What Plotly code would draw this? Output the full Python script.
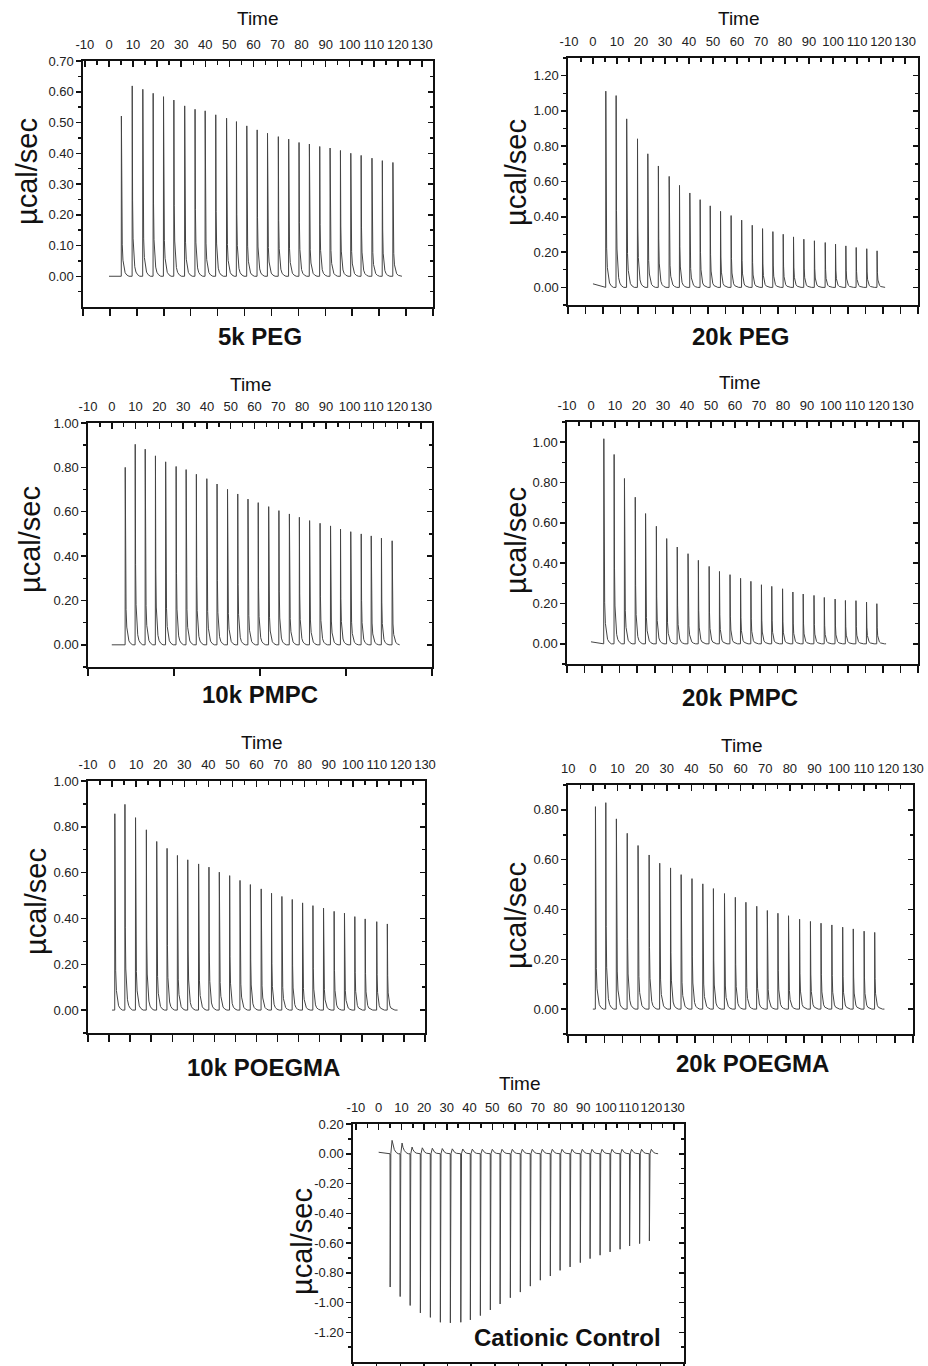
import plotly.graph_objects as go

W, H = 928, 1366          # browser window / figure size
FONT = "Liberation Sans, Arial, sans-serif"

# ---------------- data ----------------
PANEL_NAMES = ["5k PEG", "20k PEG", "10k PMPC", "20k PMPC", "10k POEGMA", "20k POEGMA", "Cationic Control"]

# injection times (min)
T_5K_PEG = [5.1, 9.6, 14.0, 18.3, 22.6, 26.9, 31.4, 35.7, 39.9, 44.3, 48.8, 52.9, 57.2, 61.5,
            65.8, 70.3, 74.6, 78.9, 83.2, 87.5, 91.8, 96.1, 100.4, 104.7, 109.2, 113.5, 117.9]
T_20K_PEG = [5.3, 9.6, 14.0, 18.5, 22.8, 27.2, 31.7, 36.0, 40.3, 44.6, 48.8, 53.1, 57.5, 61.9,
             66.3, 70.6, 74.9, 79.2, 83.5, 87.8, 92.2, 96.7, 101.0, 105.3, 109.6, 114.0, 118.3]
T_10K_PMPC = [5.6, 9.8, 14.0, 18.3, 22.6, 27.0, 31.2, 35.5, 39.9, 44.2, 48.6, 52.9, 57.2, 61.5,
              65.9, 70.2, 74.6, 78.8, 83.1, 87.5, 91.9, 96.1, 100.4, 104.8, 109.0, 113.3, 117.8]
T_20K_PMPC = [5.3, 9.6, 13.9, 18.4, 22.7, 27.2, 31.5, 35.9, 40.4, 44.7, 49.2, 53.5, 57.9, 62.3,
              66.6, 71.0, 75.3, 79.8, 84.1, 88.4, 92.9, 97.2, 101.7, 106.0, 110.4, 114.8, 119.1]
T_10K_POEGMA = [1.1, 5.3, 9.7, 14.2, 18.5, 22.8, 27.1, 31.4, 35.9, 40.2, 44.5, 48.8, 53.1, 57.4,
                61.9, 66.2, 70.5, 74.8, 79.1, 83.4, 87.8, 92.2, 96.5, 100.8, 105.1, 109.9, 114.3]
T_20K_POEGMA = [1.0, 5.2, 9.5, 13.9, 18.3, 22.8, 27.1, 31.5, 35.8, 40.2, 44.6, 48.9, 53.4, 57.8,
                62.1, 66.5, 70.8, 75.1, 79.4, 83.9, 88.3, 92.6, 97.0, 101.4, 105.7, 110.1, 114.4]
T_CATIONIC = [5.0, 9.4, 13.8, 18.3, 22.7, 27.1, 31.5, 36.1, 40.3, 44.7, 49.1, 53.4, 57.9, 62.3,
              66.7, 71.1, 75.5, 79.8, 84.2, 88.7, 93.0, 97.4, 101.8, 106.2, 110.4, 114.8, 119.1]

# peak heights (ucal/sec)
H_5K_PEG = [0.521, 0.619, 0.608, 0.595, 0.584, 0.573, 0.554, 0.543, 0.538, 0.525, 0.514, 0.503,
            0.489, 0.476, 0.465, 0.454, 0.446, 0.435, 0.430, 0.422, 0.417, 0.409, 0.400, 0.393,
            0.384, 0.376, 0.370]
H_20K_PEG = [1.112, 1.087, 0.955, 0.842, 0.757, 0.688, 0.629, 0.578, 0.535, 0.497, 0.462, 0.431,
             0.407, 0.381, 0.352, 0.333, 0.316, 0.301, 0.286, 0.273, 0.264, 0.254, 0.245, 0.235,
             0.226, 0.219, 0.207]
H_10K_PMPC = [0.800, 0.904, 0.882, 0.852, 0.825, 0.804, 0.790, 0.769, 0.749, 0.725, 0.701, 0.680,
              0.657, 0.641, 0.623, 0.605, 0.590, 0.575, 0.560, 0.548, 0.536, 0.522, 0.510, 0.500,
              0.491, 0.481, 0.469]
H_20K_PMPC = [1.017, 0.939, 0.820, 0.727, 0.646, 0.583, 0.522, 0.480, 0.447, 0.414, 0.384, 0.359,
              0.343, 0.325, 0.310, 0.293, 0.285, 0.273, 0.257, 0.247, 0.240, 0.230, 0.222, 0.215,
              0.214, 0.207, 0.199]
H_10K_POEGMA = [0.857, 0.898, 0.840, 0.787, 0.736, 0.706, 0.675, 0.656, 0.638, 0.624, 0.602, 0.587,
                0.566, 0.548, 0.529, 0.510, 0.496, 0.483, 0.468, 0.456, 0.445, 0.431, 0.423, 0.408,
                0.398, 0.386, 0.376]
H_20K_POEGMA = [0.813, 0.829, 0.764, 0.706, 0.657, 0.619, 0.586, 0.567, 0.540, 0.524, 0.503, 0.484,
                0.464, 0.449, 0.429, 0.413, 0.396, 0.385, 0.375, 0.361, 0.352, 0.345, 0.338, 0.329,
                0.322, 0.313, 0.308]
H_CATIONIC = [-0.896, -0.960, -1.020, -1.070, -1.100, -1.133, -1.137, -1.133, -1.117, -1.088, -1.050,
              -1.010, -0.968, -0.930, -0.890, -0.850, -0.822, -0.784, -0.761, -0.732, -0.705, -0.682,
              -0.660, -0.642, -0.620, -0.604, -0.586]
# small positive rebound after each exothermic spike (cationic control)
B_CATIONIC = [0.090, 0.072, 0.045, 0.040, 0.037, 0.035, 0.033, 0.032, 0.031, 0.030, 0.030, 0.030,
              0.030, 0.030, 0.030, 0.030, 0.030, 0.030, 0.030, 0.030, 0.030, 0.030, 0.030, 0.030,
              0.030, 0.030, 0.030]

# baseline start/end times and starting level
RUN_START = [0.0, 0.0, 0.0, 0.0, 0.0, 0.0, 0.0]
RUN_END = [121.7, 121.7, 121.0, 123.0, 118.6, 118.4, 123.0]
START_LEVEL = [0.0, 0.02, 0.0, 0.01, 0.0, 0.0, 0.01]

# normalised peak profile (time offset, fraction of height)
PEAK_DT = [0.0, 0.05, 0.2, 0.4, 0.7, 1.1, 1.6, 2.3, 3.2]
PEAK_FRAC = [0.0, 1.0, 0.40, 0.20, 0.10, 0.05, 0.022, 0.008, 0.0]
# cationic: negative spike then small rebound (rebound fraction)
CAT_DT = [0.0, 0.06, 0.35, 0.9, 1.3, 1.9, 2.7, 3.6]
CAT_SPIKE = [0.0, 1.0, 0.0, 0.0, 0.0, 0.0, 0.0, 0.0]
CAT_BUMP = [0.0, 0.0, 0.0, 1.0, 0.6, 0.3, 0.1, 0.0]

TIMES = [T_5K_PEG, T_20K_PEG, T_10K_PMPC, T_20K_PMPC, T_10K_POEGMA, T_20K_POEGMA, T_CATIONIC]
HEIGHTS = [H_5K_PEG, H_20K_PEG, H_10K_PMPC, H_20K_PMPC, H_10K_POEGMA, H_20K_POEGMA, H_CATIONIC]

TOP_TICKS = [-10, 0, 10, 20, 30, 40, 50, 60, 70, 80, 90, 100, 110, 120, 130]
TOP_TICKTEXT = [[str(v) for v in TOP_TICKS] for _ in range(7)]
TOP_TICKTEXT[5] = ["10"] + [str(v) for v in TOP_TICKS[1:]]

Y_TICKS = [
    [0.0, 0.1, 0.2, 0.3, 0.4, 0.5, 0.6, 0.7],
    [0.0, 0.2, 0.4, 0.6, 0.8, 1.0, 1.2],
    [0.0, 0.2, 0.4, 0.6, 0.8, 1.0],
    [0.0, 0.2, 0.4, 0.6, 0.8, 1.0],
    [0.0, 0.2, 0.4, 0.6, 0.8, 1.0],
    [0.0, 0.2, 0.4, 0.6, 0.8],
    [0.2, 0.0, -0.2, -0.4, -0.6, -0.8, -1.0, -1.2],
]

# ---------------- layout geometry (window pixels) ----------------
BOX = [  # x0, x1, y0(top), y1(bottom)
    (83, 433, 61, 307),
    (568, 918, 58, 305),
    (88, 432, 423, 667),
    (567, 918, 422, 664),
    (88, 425, 781, 1033),
    (568, 913, 785, 1034),
    (353, 684, 1124, 1362),
]
YRANGE = [(-0.1, 0.7), (-0.1, 1.3), (-0.1, 1.0), (-0.1, 1.1), (-0.1, 1.0), (-0.1, 0.9), (-1.4, 0.2)]
YSTEP = [0.1, 0.2, 0.2, 0.2, 0.2, 0.2, 0.2]
XRANGE = [(-10.8, 134.6), (-10.4, 135.4), (-10.0, 134.6), (-10.0, 136.3), (-10.0, 130.0),
          (-10.1, 130.0), (-11.3, 134.4)]
BOT_N = [13, 20, 4, 20, 16, 19, 14]
TIME_POS = [(258, 19), (739, 19), (251, 384), (740, 382), (262, 742), (742, 745), (520, 1083)]
YLAB_POS = [(27, 172), (516, 173), (30, 540), (516, 541), (36, 902), (516, 916), (302, 1242)]
NAME_POS = [(260, 337), (740, 337), (260, 695), (740, 697), (263, 1067), (752, 1063), (567, 1337)]


def fx(px):
    return px / W


def fy(py):
    return 1 - py / H


fig = go.Figure()
layout = dict(width=W, height=H, margin=dict(l=0, r=0, t=0, b=0, autoexpand=False), autosize=False,
              paper_bgcolor="white", plot_bgcolor="white", showlegend=False,
              font=dict(family=FONT, color="#111"))
annotations = []
LC = "#111"
LW = 1.6

for i in range(7):
    xa, xb = 2 * i + 1, 2 * i + 2
    ya, yb = 2 * i + 1, 2 * i + 2
    x0, x1, y0, y1 = BOX[i]

    # build the trace
    xs = [RUN_START[i]]
    ys = [START_LEVEL[i]]
    if i < 6:
        for t, h in zip(TIMES[i], HEIGHTS[i]):
            for dt, f in zip(PEAK_DT, PEAK_FRAC):
                xs.append(t + dt)
                ys.append(h * f)
    else:
        for t, h, b in zip(TIMES[i], HEIGHTS[i], B_CATIONIC):
            for dt, s, bf in zip(CAT_DT, CAT_SPIKE, CAT_BUMP):
                xs.append(t + dt)
                ys.append(h * s + b * bf)
    xs.append(RUN_END[i])
    ys.append(0.0)

    fig.add_trace(go.Scatter(x=xs, y=ys, mode="lines", xaxis=f"x{xa}", yaxis=f"y{ya}",
                             line=dict(color="#444", width=1), hoverinfo="skip"))
    fig.add_trace(go.Scatter(x=[None], y=[None], mode="lines", xaxis=f"x{xb}", yaxis=f"y{yb}",
                             hoverinfo="skip"))

    yr = YRANGE[i]
    st = YSTEP[i]
    ytv = Y_TICKS[i]
    ytt = [f"{v:.2f}" for v in ytv]
    yminor = [round(v + st / 2, 3) for v in ytv] + [round(min(ytv) - st / 2, 3)]
    yminor = [v for v in yminor if yr[0] - 1e-9 <= v <= yr[1] + 1e-9]
    xminor = [v + 5 for v in TOP_TICKS[:-1]]

    layout[f"xaxis{xa}"] = dict(
        domain=[fx(x0), fx(x1)], anchor=f"y{ya}", side="top", range=list(XRANGE[i]),
        tickmode="array", tickvals=TOP_TICKS, ticktext=TOP_TICKTEXT[i], tickangle=0,
        ticks="inside", ticklen=6, tickwidth=1.5, tickcolor=LC,
        minor=dict(tickmode="array", tickvals=xminor, ticks="inside", ticklen=4, tickwidth=1.5,
                   tickcolor=LC),
        showline=True, linewidth=LW, linecolor=LC, showgrid=False, zeroline=False,
        tickfont=dict(size=13, color="#222", family=FONT), ticklabelstandoff=5,
        ticklabeloverflow="allow", automargin=False, fixedrange=True)
    layout[f"xaxis{xb}"] = dict(
        overlaying=f"x{xa}", anchor=f"y{ya}", side="bottom", range=[0, BOT_N[i]],
        tickmode="linear", tick0=0, dtick=1, ticks="outside", ticklen=7, tickwidth=1.5,
        tickcolor=LC, showticklabels=False, showline=True, linewidth=LW, linecolor=LC,
        showgrid=False, zeroline=False, automargin=False, fixedrange=True)
    layout[f"yaxis{ya}"] = dict(
        domain=[fy(y1), fy(y0)], anchor=f"x{xa}", side="left", range=list(yr),
        tickmode="array", tickvals=ytv, ticktext=ytt,
        ticks="outside", ticklen=5, tickwidth=1.5, tickcolor=LC,
        minor=dict(tickmode="array", tickvals=yminor, ticks="outside", ticklen=3, tickwidth=1.5,
                   tickcolor=LC),
        showline=True, linewidth=LW, linecolor=LC, showgrid=False, zeroline=False,
        tickfont=dict(size=13, color="#222", family=FONT), automargin=False, fixedrange=True)
    layout[f"yaxis{yb}"] = dict(
        overlaying=f"y{ya}", anchor=f"x{xa}", side="right", range=list(yr),
        tickmode="array", tickvals=ytv, ticks="inside", ticklen=5, tickwidth=1.5, tickcolor=LC,
        minor=dict(tickmode="array", tickvals=yminor, ticks="inside", ticklen=3, tickwidth=1.5,
                   tickcolor=LC),
        showticklabels=False, showline=True, linewidth=LW, linecolor=LC, showgrid=False,
        zeroline=False, automargin=False, fixedrange=True)

    tx, ty = TIME_POS[i]
    annotations.append(dict(text="Time", x=fx(tx), y=fy(ty), xref="paper", yref="paper",
                            showarrow=False, xanchor="center", yanchor="middle",
                            font=dict(size=19, color="#111", family=FONT)))
    lx, ly = YLAB_POS[i]
    annotations.append(dict(text="µcal/sec", x=fx(lx), y=fy(ly), xref="paper", yref="paper",
                            showarrow=False, xanchor="center", yanchor="middle", textangle=-90,
                            font=dict(size=29, color="#111", family=FONT)))
    nx, ny = NAME_POS[i]
    annotations.append(dict(text=f"<b>{PANEL_NAMES[i]}</b>", x=fx(nx), y=fy(ny), xref="paper",
                            yref="paper", showarrow=False, xanchor="center", yanchor="middle",
                            font=dict(size=24, color="#111", family=FONT)))

layout["annotations"] = annotations
fig.update_layout(**layout)
fig.write_html(
    "out.html",
    config={"displayModeBar": False, "staticPlot": True},
    post_script="document.body.style.margin='0';document.body.style.overflow='hidden';"
                "document.documentElement.style.overflow='hidden';",
)
